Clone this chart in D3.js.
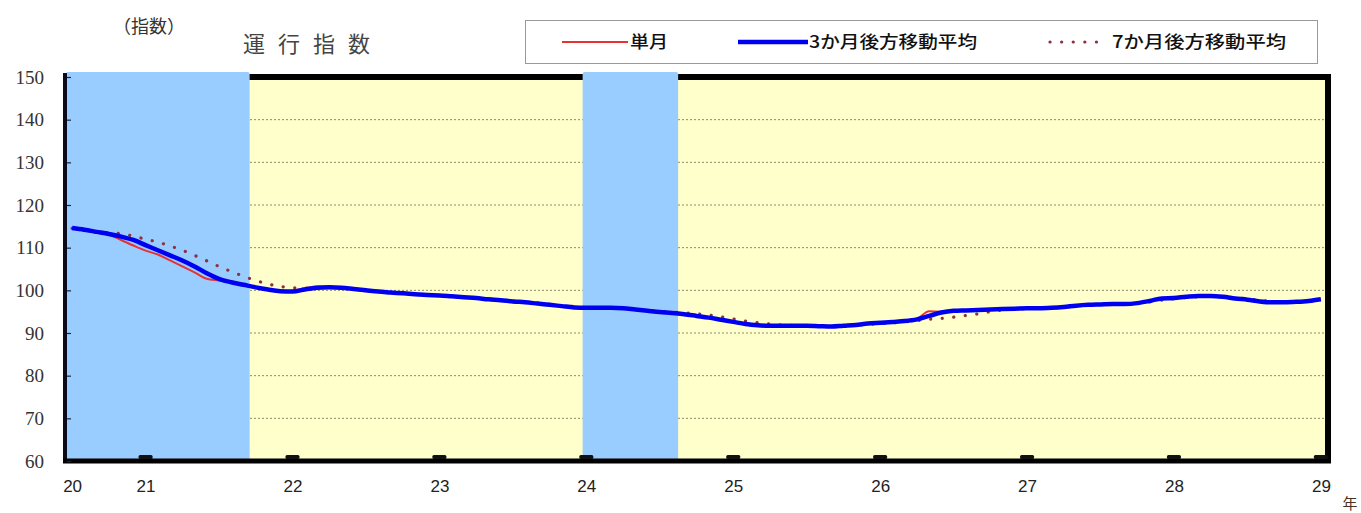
<!DOCTYPE html>
<html>
<head>
<meta charset="utf-8">
<script src="https://cdn.jsdelivr.net/npm/d3@7"></script>
<style>
  body { margin: 0; background: #fff; }
  svg { display: block; }
  .y-axis text { font-family: "Liberation Serif", "Times New Roman", serif; font-size: 19px; }
  .x-axis text { font-family: "Liberation Sans", Arial, sans-serif; font-size: 17px; }
</style>
</head>
<body>
<section></section>
<script>
"use strict";

//Chart data (month index 0 = first month shown, year labels at January)
const yearLabels = ["20", "21", "22", "23", "24", "25", "26", "27", "28", "29"];
const yearLabelIdx = [0, 6, 18, 30, 42, 54, 66, 78, 90, 102];
const yearTickIdx = [6, 18, 30, 42, 54, 66, 78, 90, 102];
const yTicks = [60, 70, 80, 90, 100, 110, 120, 130, 140, 150];
const shadedRanges = [[-0.5, 14.5], [41.7, 49.5]];

const single = [
  114.6, 114.0, 113.5, 113.0, 111.8, 110.5, 109.3, 108.4, 107.0, 105.6, 104.2, 102.7,
  102.3, 101.8, 101.2, 100.6, 100.1, 99.6, 99.9, 100.5, 100.9, 100.9, 100.5, 100.2,
  99.8, 99.8, 99.4, 99.2, 99.2, 98.8, 98.9, 98.5, 98.4, 98.1, 97.9, 97.6,
  97.4, 97.1, 96.9, 96.5, 96.3, 96.0, 95.8, 96.0, 95.8, 95.8, 95.4, 95.2,
  94.8, 94.7, 94.3, 94.0, 93.5, 93.1, 92.5, 92.1, 91.7, 91.8, 91.6, 91.7,
  91.8, 91.5, 91.5, 91.8, 91.9, 92.3, 92.4, 92.7, 92.8, 93.3, 95.1, 95.0,
  95.2, 95.4, 95.3, 95.6, 95.6, 95.7, 95.9, 95.8, 95.9, 96.2, 96.4, 96.6,
  96.8, 96.7, 96.8, 97.1, 97.6, 98.0, 98.3, 98.5, 98.8, 98.6, 98.5, 98.0,
  97.8, 97.3, 97.2, 97.2, 97.4, 97.5, 97.9
];
const avg3 = [
  114.6, 114.2, 113.7, 113.2, 112.6, 111.8, 110.6, 109.4, 108.2, 107.0, 105.6, 104.0,
  102.7, 101.9, 101.3, 100.7, 100.2, 99.8, 99.7, 100.2, 100.6, 100.7, 100.6, 100.3,
  100.0, 99.7, 99.5, 99.3, 99.1, 98.9, 98.8, 98.6, 98.4, 98.2, 97.9, 97.7,
  97.4, 97.2, 96.9, 96.6, 96.3, 96.0, 95.9, 95.9, 95.9, 95.8, 95.5, 95.2,
  94.9, 94.7, 94.4, 94.0, 93.6, 93.1, 92.6, 92.1, 91.8, 91.7, 91.7, 91.7,
  91.7, 91.6, 91.5, 91.7, 91.9, 92.2, 92.4, 92.6, 92.8, 93.2, 94.0, 94.8,
  95.2, 95.3, 95.4, 95.5, 95.6, 95.7, 95.8, 95.8, 95.9, 96.1, 96.4, 96.6,
  96.7, 96.8, 96.8, 97.0, 97.5, 98.1, 98.2, 98.5, 98.7, 98.7, 98.5, 98.1,
  97.8, 97.4, 97.2, 97.2, 97.3, 97.5, 97.9
];
const avg7 = [
  114.5, 114.1, 113.7, 113.5, 113.3, 112.7, 112.0, 111.3, 110.4, 109.4, 108.2, 106.9,
  105.6, 104.4, 103.3, 102.3, 101.5, 100.9, 100.6, 100.5, 100.5, 100.6, 100.5, 100.3,
  100.0, 99.8, 99.5, 99.3, 99.1, 99.0, 98.8, 98.6, 98.4, 98.2, 98.0, 97.7,
  97.5, 97.2, 97.0, 96.7, 96.4, 96.2, 96.0, 95.9, 95.8, 95.7, 95.5, 95.3,
  95.1, 94.9, 94.7, 94.5, 94.2, 93.8, 93.3, 92.8, 92.4, 92.1, 91.9, 91.8,
  91.7, 91.7, 91.6, 91.7, 91.8, 92.0, 92.2, 92.4, 92.6, 92.9, 93.2, 93.4,
  93.7, 94.1, 94.5, 95.0, 95.4, 95.6, 95.7, 95.8, 95.9, 96.0, 96.3, 96.5,
  96.7, 96.8, 96.9, 97.0, 97.3, 97.7, 98.0, 98.3, 98.5, 98.6, 98.5, 98.3,
  98.0, 97.7, 97.4, 97.3, 97.3, 97.4, 97.6
];

//Dimensions
const w = 1361;
const h = 513;
const plot = { left: 66, right: 1327, top: 77, bottom: 461 };

const svg = d3.select("section").append("svg").attr("width", w).attr("height", h);

const xScale = d3.scaleLinear().domain([-0.5, 102.5]).range([plot.left, plot.right]);
const yScale = d3.scaleLinear().domain([60, 150]).range([plot.bottom, plot.top]);

//Background
svg.append("rect")
  .attr("x", plot.left).attr("y", plot.top)
  .attr("width", plot.right - plot.left).attr("height", plot.bottom - plot.top)
  .attr("fill", "#ffffcc");

//Gridlines
svg.append("g")
  .selectAll("line")
  .data(yTicks.filter((d) => d > 60 && d < 150))
  .enter()
  .append("line")
  .attr("x1", plot.left).attr("x2", plot.right)
  .attr("y1", (d) => yScale(d)).attr("y2", (d) => yScale(d))
  .attr("stroke", "#8c8a6a")
  .attr("stroke-width", 1)
  .attr("stroke-dasharray", "2,2");

//Top border (covered by shaded bands)
svg.append("line")
  .attr("x1", plot.left).attr("x2", plot.right)
  .attr("y1", plot.top).attr("y2", plot.top)
  .attr("stroke", "#000").attr("stroke-width", 6);

//Shaded bands
svg.append("g")
  .selectAll("rect")
  .data(shadedRanges)
  .enter()
  .append("rect")
  .attr("x", (d) => xScale(d[0]))
  .attr("y", 72)
  .attr("width", (d) => xScale(d[1]) - xScale(d[0]))
  .attr("height", plot.bottom - 72)
  .attr("rx", 2)
  .attr("fill", "#99ccff");

//Lines
const line = d3.line()
  .x((d, i) => xScale(i))
  .y((d) => yScale(d))
  .curve(d3.curveMonotoneX);

svg.append("path").datum(single)
  .attr("d", line).attr("fill", "none")
  .attr("stroke", "#e83232").attr("stroke-width", 2);

svg.append("path").datum(avg7)
  .attr("d", line).attr("fill", "none")
  .attr("stroke", "#8e3040").attr("stroke-width", 3.2)
  .attr("stroke-linecap", "round")
  .attr("stroke-dasharray", "0.1,11.5");

svg.append("path").datum(avg3)
  .attr("d", line).attr("fill", "none")
  .attr("stroke", "#0000f0").attr("stroke-width", 4.5)
  .attr("stroke-linejoin", "round");

//Left, bottom, right borders
svg.append("line")
  .attr("x1", plot.left - 1).attr("x2", plot.left - 1)
  .attr("y1", 73).attr("y2", plot.bottom + 2)
  .attr("stroke", "#0a0a1a").attr("stroke-width", 4);
svg.append("line")
  .attr("x1", plot.left - 3).attr("x2", plot.right + 4)
  .attr("y1", plot.bottom).attr("y2", plot.bottom)
  .attr("stroke", "#000").attr("stroke-width", 5);
svg.append("line")
  .attr("x1", plot.right + 1).attr("x2", plot.right + 1)
  .attr("y1", 74).attr("y2", plot.bottom + 2)
  .attr("stroke", "#000").attr("stroke-width", 6);

//Year tick bumps on the bottom axis
svg.append("g")
  .selectAll("rect")
  .data(yearTickIdx)
  .enter()
  .append("rect")
  .attr("x", (d) => xScale(d) - 7)
  .attr("y", plot.bottom - 6)
  .attr("width", 14)
  .attr("height", 4)
  .attr("rx", 1.5)
  .attr("fill", "#111");

//y Axis
const yAxis = d3.axisLeft(yScale).tickValues(yTicks).tickSize(-4).tickPadding(23);
svg.append("g")
  .attr("class", "y-axis")
  .attr("transform", `translate(${plot.left + 1}, 0)`)
  .call(yAxis)
  .attr("font-family", "Liberation Serif")
  .attr("font-size", 19)
  .call((g) => g.select(".domain").remove())
  .call((g) => g.selectAll(".tick line").attr("stroke", "#223").attr("stroke-width", 1.2))
  .call((g) => g.selectAll("text").attr("fill", "#333"));

//x Axis
const xAxis = d3.axisBottom(xScale)
  .tickValues(yearLabelIdx)
  .tickFormat((d, i) => yearLabels[i])
  .tickSize(0)
  .tickPadding(19);
svg.append("g")
  .attr("class", "x-axis")
  .attr("transform", `translate(0, ${plot.bottom})`)
  .call(xAxis)
  .attr("font-family", "Liberation Sans")
  .attr("font-size", 17)
  .call((g) => g.select(".domain").remove())
  .call((g) => g.selectAll("text").attr("fill", "#222"));

svg.append("text")
  .attr("x", 1350).attr("y", 509)
  .attr("text-anchor", "middle")
  .attr("font-family", "'Noto Sans CJK JP', sans-serif")
  .attr("font-size", 15)
  .attr("fill", "#4a3020")
  .text("年");

//Titles
svg.append("text")
  .attr("x", 113).attr("y", 33)
  .attr("font-family", "'Noto Sans CJK JP', sans-serif")
  .attr("font-size", 18)
  .attr("fill", "#333")
  .text("（指数）");

svg.append("text")
  .attr("x", 243).attr("y", 52)
  .attr("font-family", "'Noto Sans CJK JP', sans-serif")
  .attr("font-size", 22)
  .attr("letter-spacing", 13)
  .attr("fill", "#444")
  .text("運行指数");

//Legend
const legendItems = [
  { label: "単月", x1: 562, x2: 628, tx: 630, tw: 38, color: "#e83232", width: 2, dash: null },
  { label: "3か月後方移動平均", x1: 738, x2: 808, tx: 809, tw: 168, color: "#0000f0", width: 4.5, dash: null },
  { label: "7か月後方移動平均", x1: 1050, x2: 1106, tx: 1112, tw: 174, color: "#8e3040", width: 3.2, dash: "0.1,11.5" },
];

const legend = svg.append("g").attr("id", "legend");
legend.append("rect")
  .attr("x", 525.5).attr("y", 20.5)
  .attr("width", 792).attr("height", 43)
  .attr("fill", "#fff")
  .attr("stroke", "#999");

const items = legend.selectAll("g.item").data(legendItems).enter().append("g").attr("class", "item");
items.append("line")
  .attr("x1", (d) => d.x1).attr("x2", (d) => d.x2)
  .attr("y1", 42).attr("y2", 42)
  .attr("stroke", (d) => d.color)
  .attr("stroke-width", (d) => d.width)
  .attr("stroke-linecap", (d) => (d.dash ? "round" : "butt"))
  .attr("stroke-dasharray", (d) => d.dash);
items.append("text")
  .attr("x", (d) => d.tx).attr("y", 48)
  .attr("textLength", (d) => d.tw)
  .attr("lengthAdjust", "spacingAndGlyphs")
  .attr("font-family", "'Noto Sans CJK JP', sans-serif")
  .attr("font-size", 17)
  .attr("font-weight", 500)
  .attr("fill", "#111")
  .text((d) => d.label);
</script>
</body>
</html>
